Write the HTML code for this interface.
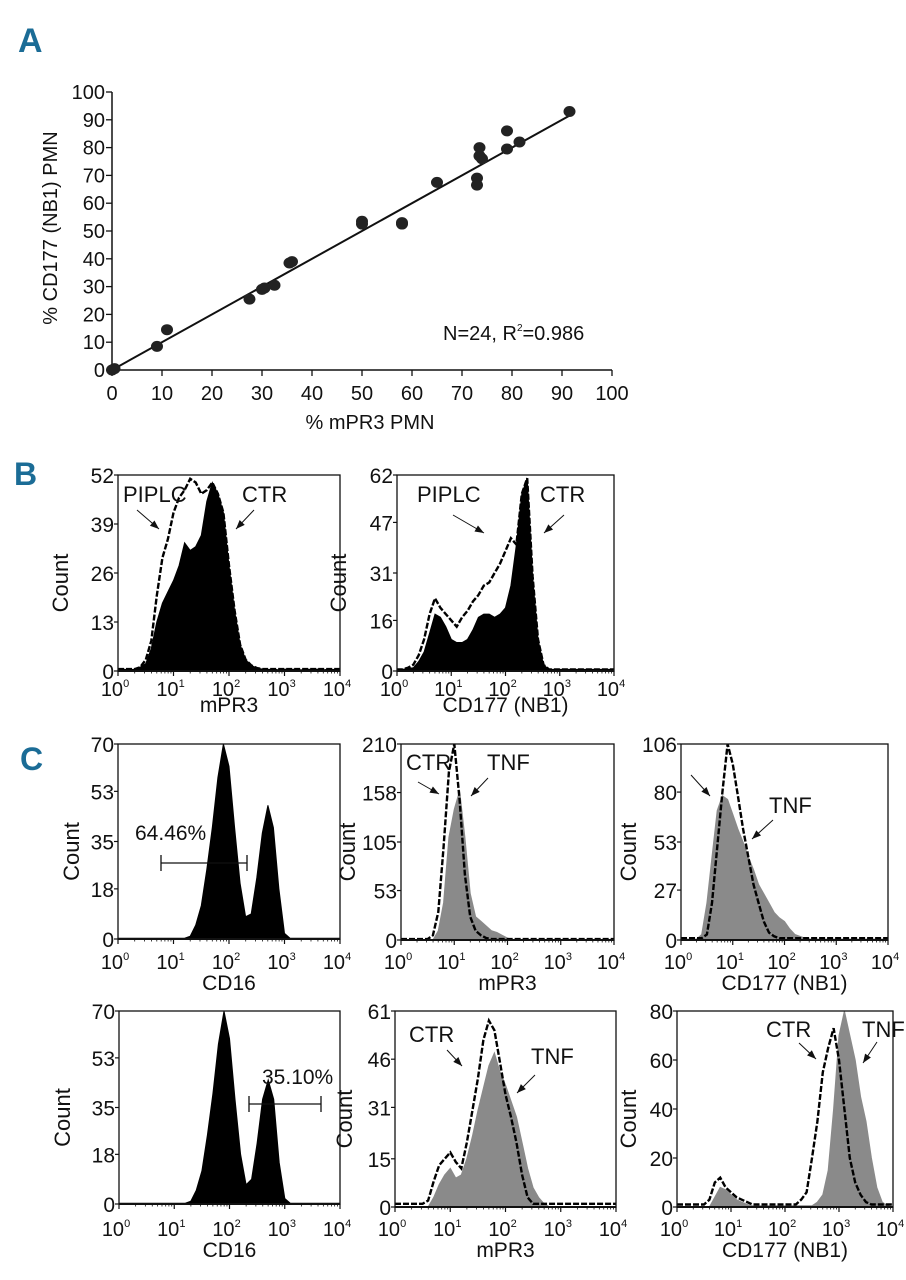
<!DOCTYPE html>
<html><head><meta charset="utf-8">
<style>
html,body{margin:0;padding:0;background:#fff;}
svg{display:block;}
text{font-family:"Liberation Sans Narrow","Liberation Sans",sans-serif;fill:#111;}
.pl{font-family:"Liberation Sans Narrow","Liberation Sans",sans-serif;font-weight:bold;fill:#1b6c96;}
</style></head>
<body>
<svg id="fig" width="906" height="1280" viewBox="0 0 906 1280" xmlns="http://www.w3.org/2000/svg">
<g id="root"></g>
</svg>
<script>
// ---- Panel A data ----
const aX = [0,0.5,9,11,27.5,30.5,32.5,36,50,50,58,58,65,73,73,73.5,74,73.5,79,79,81.5,91.5,35.5,30];
const aY = [0,0.5,8.5,14.5,25.5,29.5,30.5,39,53.5,52.5,52.5,53,67.5,69,66.5,80,76,77,86,79.5,82,93,38.5,29];
const aTicks = [0,10,20,30,40,50,60,70,80,90,100];
const aFit = [0,92];
// ---- Histogram data (log10 bins 0.0..4.0 step 0.1) ----
const bLeftCTR = [0.5,0.5,0.3,0.5,1,2,6,13,18,21,24,28,34,32,33,36,45,50,47,42,28,16,7,3,1.5,0.8,0.5,0.4,0.5,0.3,0.5,0.4,0.5,0.3,0.5,0.4,0.5,0.3,0.5,0.4,0.5];
const bLeftPIPLC = [0.5,0.5,0.5,0.5,1,3,8,20,30,35,42,46,48,51,50,47,48,50,47,42,28,16,7,3,1.5,0.8,0.5,0.5,0.5,0.5,0.5,0.5,0.5,0.5,0.5,0.5,0.5,0.5,0.5,0.5,0.5];
const bLeftTicks = [0,13,26,39,52];
const bRightCTR = [0.5,0.5,0.8,1,3,6,12,18,17,14,10,9,9,10,13,17,18,18,17,18,20,27,40,56,61,30,10,2,0.5,0.5,0.5,0.5,0.5,0.5,0.5,0.5,0.5,0.5,0.5,0.5,0.5];
const bRightPIPLC = [0.5,0.5,1,2,5,10,18,23,20,18,16,14,17,19,22,24,27,28,31,34,38,42,40,56,61,30,10,2,0.5,0.5,0.5,0.5,0.5,0.5,0.5,0.5,0.5,0.5,0.5,0.5,0.5];
const bRightTicks = [0,16,31,47,62];
const c1LeftCD16 = [0.3,0.3,0.3,0.3,0.3,0.3,0.3,0.3,0.3,0.3,0.3,0.3,0.3,1,5,12,25,40,58,70,62,40,20,8,9,22,38,48,40,18,2,0.3,0.3,0.3,0.3,0.3,0.3,0.3,0.3,0.3,0.3];
const c1LeftTicks = [0,18,35,53,70];
const c1MidCTR = [1,1,1,1,1,1,5,30,100,180,210,150,70,25,10,5,2,1,1,1,1,1,1,1,1,1,1,1,1,1,1,1,1,1,1,1,1,1,1,1,1];
const c1MidTNF = [0,0,0,0,0,0,0,10,40,110,140,160,110,50,25,20,15,10,8,5,2,0.5,0.5,0.5,0.5,0.5,0.5,0.5,0.5,0.5,0.5,0.5,0.5,0.5,0.5,0.5,0.5,0.5,0.5,0.5,0.5];
const c1MidTicks = [0,53,105,158,210];
const c1RightCTR = [1,1,1,1,1,3,20,50,80,106,95,78,60,45,30,20,10,4,2,1,1,1,1,1,1,1,1,1,1,1,1,1,1,1,1,1,1,1,1,1,1];
const c1RightTNF = [0.5,0.5,0.5,0.5,3,20,45,70,78,76,68,60,53,45,38,30,25,20,15,12,10,6,3,2,1,0.5,0.5,0.5,0.5,0.5,0.5,0.5,0.5,0.5,0.5,0.5,0.5,0.5,0.5,0.5,0.5];
const c1RightTicks = [0,27,53,80,106];
const c2LeftCD16 = [0.3,0.3,0.3,0.3,0.3,0.3,0.3,0.3,0.3,0.3,0.3,0.3,0.3,1,5,12,25,40,58,70,60,38,18,7,9,22,38,45,38,15,2,0.3,0.3,0.3,0.3,0.3,0.3,0.3,0.3,0.3,0.3];
const c2LeftTicks = [0,18,35,53,70];
const c2MidCTR = [1,1,1,1,1,1,2,8,13,15,17,14,12,20,30,40,52,58,55,45,35,28,20,10,3,1,1,1,1,1,1,1,1,1,1,1,1,1,1,1,1];
const c2MidTNF = [0,0,0,0,0,0,0,3,7,10,12,9,10,15,22,30,37,44,48,42,38,33,28,20,12,6,3,1,0,0,0,0,0,0,0,0,0,0,0,0,0];
const c2MidTicks = [0,15,31,46,61];
const c2RightCTR = [1,1,1,1,1,1,3,10,12,8,6,4,3,2,1,1,1,1,1,1,1,1,1,3,6,20,35,55,65,73,60,40,20,10,5,2,1,1,1,1,1];
const c2RightTNF = [0,0,0,0,0,0,0,4,8,7,5,3,2,1,0.5,0.5,0.5,0.5,0.5,0.5,0.5,0.5,0.5,0.5,0.5,0.5,2,5,15,40,70,80,70,60,45,35,20,8,2,0.5,0];
const c2RightTicks = [0,20,40,60,80];
const decades = [0,1,2,3,4];

const NS = "http://www.w3.org/2000/svg";
const root = document.getElementById('root');
function mk(tag, attrs, parent, txt){
  const e = document.createElementNS(NS, tag);
  for (const k in attrs) e.setAttribute(k, attrs[k]);
  if (txt !== undefined) e.textContent = txt;
  (parent || root).appendChild(e);
  return e;
}

// ---------- Panel A ----------
(function(){
  const g = mk('g', {});
  
  
  const x0=112, x1=612, y0=370, y1=92;
  const sx = v => x0 + (v/100)*(x1-x0);
  const sy = v => y0 - (v/100)*(y0-y1);
  const lbl = mk('text', {x:18, y:52, class:'pl', 'font-size':34}, g, 'A');
  
  
  mk('line',{x1:x0,y1:y0,x2:x1,y2:y0,stroke:'#111','stroke-width':1.5},g);
  mk('line',{x1:x0,y1:y0,x2:x0,y2:y1,stroke:'#111','stroke-width':1.5},g);
  aTicks.forEach(t=>{
    mk('line',{x1:sx(t),y1:y0,x2:sx(t),y2:y0+6,stroke:'#111','stroke-width':1.3},g);
    mk('line',{x1:x0-6,y1:sy(t),x2:x0,y2:sy(t),stroke:'#111','stroke-width':1.3},g);
    const tx = mk('text',{x:sx(t),y:y0+30,'text-anchor':'middle','font-size':20},g,String(t));
    
    
    const ty = mk('text',{x:x0-7,y:sy(t)+7,'text-anchor':'end','font-size':20},g,String(t));
    
    
  });
  const xt = mk('text',{x:370,y:429,'text-anchor':'middle','font-size':20},g,'% mPR3 PMN');
  
  
  const yt = mk('text',{x:0,y:0,'text-anchor':'middle','font-size':20,transform:'translate(57,228) rotate(-90)'},g,'% CD177 (NB1) PMN');
  
  
  const fl = mk('line',{x1:sx(aFit[0]),y1:sy(aFit[0]),x2:sx(aFit[1]),y2:sy(aFit[1]),stroke:'#111','stroke-width':2},g);
  
  
  aX.forEach((v,i)=>{
    const c = mk('ellipse',{cx:sx(v),cy:sy(aY[i]),rx:6,ry:5.5,fill:'#222'},g);
    
    
  });
  const st = mk('text',{x:443,y:340,'font-size':20},g);
  
  
  st.appendChild(document.createTextNode('N=24, R'));
  mk('tspan',{'font-size':10,dy:-9},st,'2');
  mk('tspan',{dy:9},st,'=0.986');
})();

// ---------- Histogram helper ----------
function hist(cfg){
  const g = mk('g', {});
  
  
  const {x0,x1,y0,y1,ticks} = cfg;
  const ymax = ticks[ticks.length-1];
  const sx = l => x0 + (l/4)*(x1-x0);
  const sy = c => y0 - (c/ymax)*(y0-y1);
  // fill series
  if (cfg.fill){
    let d = 'M'+sx(0)+','+y0;
    cfg.fill.forEach((v,i)=>{ d += ' L'+sx(i/10).toFixed(1)+','+sy(v).toFixed(1); });
    d += ' L'+sx(4)+','+y0+' Z';
    const p = mk('path',{d:d,fill:cfg.fillColor,stroke:cfg.fillColor,'stroke-width':1},g);
    
    
  }
  if (cfg.line){
    let d = '';
    cfg.line.forEach((v,i)=>{ d += (i?' L':'M')+sx(i/10).toFixed(1)+','+sy(v).toFixed(1); });
    const p = mk('path',{d:d,fill:'none',stroke:'#000','stroke-width':2.4,'stroke-dasharray':'6,2'},g);
    
    
  }
  // frame
  mk('rect',{x:x0,y:y1,width:x1-x0,height:y0-y1,fill:'none',stroke:'#111','stroke-width':1.3},g);
  mk('line',{x1:x0,y1:y0,x2:x1,y2:y0,stroke:'#111','stroke-width':2},g);
  ticks.forEach(t=>{
    mk('line',{x1:x0-4,y1:sy(t),x2:x0,y2:sy(t),stroke:'#111','stroke-width':1.2},g);
    const ty = mk('text',{x:x0-4,y:sy(t)+8,'text-anchor':'end','font-size':21},g,String(t));
    
    
  });
  decades.forEach(k=>{
    mk('line',{x1:sx(k),y1:y0,x2:sx(k),y2:y0+5,stroke:'#111','stroke-width':1.2},g);
    if (k<4) for (let m=2;m<10;m++){
      const xx = sx(k+Math.log10(m));
      mk('line',{x1:xx,y1:y0,x2:xx,y2:y0+2.5,stroke:'#111','stroke-width':0.8},g);
    }
    const tx = mk('text',{x:sx(k)-3,y:cfg.tickY,'text-anchor':'middle','font-size':20},g);
    
    
    tx.appendChild(document.createTextNode('10'));
    mk('tspan',{'font-size':11,dy:-9},tx,String(k));
  });
  const xt = mk('text',{x:(x0+x1)/2,y:cfg.titleY,'text-anchor':'middle','font-size':21},g,cfg.xTitle);
  
  
  const yt = mk('text',{x:0,y:0,'text-anchor':'middle','font-size':22,transform:'translate('+cfg.countX+','+((y0+y1)/2+10)+') rotate(-90)'},g,'Count');
  
  
  (cfg.labels||[]).forEach(L=>{
    const t = mk('text',{x:L[0],y:L[1],'font-size':22},g,L[2]);
    
    
  });
  (cfg.arrows||[]).forEach(A=>{
    const [ax,ay,bx,by]=A;
    mk('line',{x1:ax,y1:ay,x2:bx,y2:by,stroke:'#111','stroke-width':1},g);
    const ang=Math.atan2(by-ay,bx-ax), L=9, W=3.5;
    const px=bx-L*Math.cos(ang), py=by-L*Math.sin(ang);
    const pts=[bx+','+by,(px+W*Math.sin(ang))+','+(py-W*Math.cos(ang)),(px-W*Math.sin(ang))+','+(py+W*Math.cos(ang))].join(' ');
    const a = mk('polygon',{points:pts,fill:'#111'},g);
    
    
  });
  (cfg.gate?[cfg.gate]:[]).forEach(G=>{
    const [gx0,gx1,gy,txt,tx,ty]=G;
    mk('line',{x1:gx0,y1:gy,x2:gx1,y2:gy,stroke:'#111','stroke-width':1.3},g);
    mk('line',{x1:gx0,y1:gy-8,x2:gx0,y2:gy+8,stroke:'#111','stroke-width':1.3},g);
    mk('line',{x1:gx1,y1:gy-8,x2:gx1,y2:gy+8,stroke:'#111','stroke-width':1.3},g);
    const t = mk('text',{x:tx,y:ty,'font-size':21},g,txt);
    
    
  });
}

// Panel labels
[['B',14,485],['C',20,770]].forEach(P=>{
  const t = mk('text',{x:P[1],y:P[2],class:'pl','font-size':32},root,P[0]);
  
  
});

hist({name:'hist-b-mpr3',x0:118,x1:340,y0:671,y1:475,ticks:bLeftTicks,fill:bLeftCTR,fillColor:'#000',fillName:'ctr-fill',line:bLeftPIPLC,lineName:'piplc-line',tickY:696,titleY:712,xTitle:'mPR3',countX:68,
  labels:[[123,502,'PIPLC'],[242,502,'CTR']],arrows:[[137,510,159,529],[254,510,236,529]]});
hist({name:'hist-b-cd177',x0:397,x1:614,y0:671,y1:475,ticks:bRightTicks,fill:bRightCTR,fillColor:'#000',fillName:'ctr-fill',line:bRightPIPLC,lineName:'piplc-line',tickY:696,titleY:712,xTitle:'CD177 (NB1)',countX:346,
  labels:[[417,502,'PIPLC'],[540,502,'CTR']],arrows:[[453,515,484,533],[564,515,544,533]]});

hist({name:'hist-c1-cd16',x0:118,x1:340,y0:939,y1:744,ticks:c1LeftTicks,fill:c1LeftCD16,fillColor:'#000',fillName:'cd16-fill',tickY:969,titleY:990,xTitle:'CD16',countX:79,
  gate:[161,247,863,'64.46%',135,840]});
hist({name:'hist-c1-mpr3',x0:401,x1:614,y0:940,y1:744,ticks:c1MidTicks,fill:c1MidTNF,fillColor:'#8a8a8a',fillName:'tnf-fill',line:c1MidCTR,lineName:'ctr-line',tickY:969,titleY:990,xTitle:'mPR3',countX:355,
  labels:[[406,770,'CTR'],[487,770,'TNF']],arrows:[[418,782,439,794],[488,778,471,796]]});
hist({name:'hist-c1-cd177',x0:681,x1:888,y0:940,y1:744,ticks:c1RightTicks,fill:c1RightTNF,fillColor:'#8a8a8a',fillName:'tnf-fill',line:c1RightCTR,lineName:'ctr-line',tickY:969,titleY:990,xTitle:'CD177 (NB1)',countX:636,
  labels:[[769,813,'TNF']],arrows:[[691,775,710,796],[773,820,752,839]]});

hist({name:'hist-c2-cd16',x0:119,x1:340,y0:1204,y1:1011,ticks:c2LeftTicks,fill:c2LeftCD16,fillColor:'#000',fillName:'cd16-fill',tickY:1236,titleY:1257,xTitle:'CD16',countX:70,
  gate:[249,321,1104,'35.10%',262,1084]});
hist({name:'hist-c2-mpr3',x0:395,x1:616,y0:1207,y1:1011,ticks:c2MidTicks,fill:c2MidTNF,fillColor:'#8a8a8a',fillName:'tnf-fill',line:c2MidCTR,lineName:'ctr-line',tickY:1236,titleY:1257,xTitle:'mPR3',countX:352,
  labels:[[409,1042,'CTR'],[531,1064,'TNF']],arrows:[[447,1050,462,1066],[535,1075,517,1093]]});
hist({name:'hist-c2-cd177',x0:677,x1:893,y0:1207,y1:1011,ticks:c2RightTicks,fill:c2RightTNF,fillColor:'#8a8a8a',fillName:'tnf-fill',line:c2RightCTR,lineName:'ctr-line',tickY:1236,titleY:1257,xTitle:'CD177 (NB1)',countX:636,
  labels:[[766,1037,'CTR'],[862,1037,'TNF']],arrows:[[799,1043,816,1059],[877,1042,863,1063]]});
</script>
</body></html>
